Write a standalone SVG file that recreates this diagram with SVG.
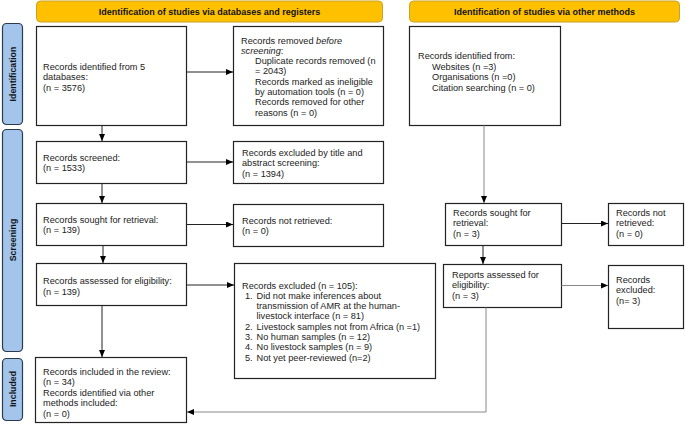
<svg xmlns="http://www.w3.org/2000/svg" width="685" height="424" viewBox="0 0 685 424">
<defs>
<marker id="ah" markerWidth="7" markerHeight="6" refX="7" refY="3" orient="auto" markerUnits="userSpaceOnUse">
<path d="M0,0 L7,3 L0,6 Z" fill="#000"/>
</marker>
</defs>
<style>
text{font-family:"Liberation Sans",Arial,sans-serif;font-size:9.2px;fill:#222}
.hdr{fill:#FFC000;stroke:#C9A227;stroke-width:1}
.hdrt{font-weight:bold;font-size:9px;fill:#111}
.side{fill:#A4C5EB;stroke:#2B3A4F;stroke-width:1.2}
.sidet{font-weight:bold;font-size:8.8px;fill:#111}
.box{fill:#fff;stroke:#222;stroke-width:1.2}
.c{stroke:#222;stroke-width:1;fill:none}
.g{stroke:#888;stroke-width:1;fill:none}
</style>
<rect width="685" height="424" fill="#fff"/>
<g id="header-db"><rect class="hdr" x="36.5" y="1" width="346" height="21" rx="4"/><text class="hdrt" x="209.5" y="14.5" text-anchor="middle">Identification of studies via databases and registers</text></g>
<g id="header-other"><rect class="hdr" x="409.5" y="1" width="270" height="21" rx="4"/><text class="hdrt" x="544.5" y="14.5" text-anchor="middle">Identification of studies via other methods</text></g>
<g id="phase-identification"><rect class="side" x="2.5" y="23.5" width="20" height="101" rx="4"/><text class="sidet" transform="translate(15.5,74) rotate(-90)" text-anchor="middle">Identification</text></g>
<g id="phase-screening"><rect class="side" x="2.5" y="129.5" width="20" height="222" rx="4"/><text class="sidet" transform="translate(15.5,240) rotate(-90)" text-anchor="middle">Screening</text></g>
<g id="phase-included"><rect class="side" x="2.5" y="358.5" width="20" height="62" rx="4"/><text class="sidet" transform="translate(15.5,389) rotate(-90)" text-anchor="middle">Included</text></g>

<g id="n-identified"><rect class="box" x="36.5" y="26.5" width="150" height="99"/>
<text x="43" y="69.5">Records identified from 5</text><text x="43" y="80">databases:</text><text x="43" y="90.5">(n = 3576)</text></g>
<g id="n-removed"><rect class="box" x="233.5" y="26.5" width="150" height="99"/>
<text x="241" y="43.5">Records removed <tspan font-style="italic">before</tspan></text>
<text x="241" y="53.8"><tspan font-style="italic">screening</tspan>:</text>
<text x="255" y="64.1">Duplicate records removed (n</text>
<text x="255" y="74.4">= 2043)</text>
<text x="255" y="84.7">Records marked as ineligible</text>
<text x="255" y="95">by automation tools (n = 0)</text>
<text x="255" y="105.3">Records removed for other</text>
<text x="255" y="115.6">reasons (n = 0)</text></g>
<g id="n-other"><rect class="box" x="409.5" y="26.5" width="151" height="99"/>
<text x="418" y="58.5">Records identified from:</text>
<text x="432" y="69.5">Websites (n =3)</text>
<text x="432" y="80">Organisations (n =0)</text>
<text x="432" y="90.5">Citation searching (n = 0)</text></g>
<g id="n-screened"><rect class="box" x="36.5" y="141.5" width="150" height="42"/>
<text x="43" y="160.5">Records screened:</text><text x="43" y="171">(n = 1533)</text></g>
<g id="n-excl-title"><rect class="box" x="233.5" y="141.5" width="150" height="42"/>
<text x="242" y="155.5">Records excluded by title and</text><text x="242" y="166">abstract screening:</text><text x="242" y="176.5">(n = 1394)</text></g>
<g id="n-sought"><rect class="box" x="36.5" y="203.5" width="150" height="42"/>
<text x="43" y="222.5">Records sought for retrieval:</text><text x="43" y="233">(n = 139)</text></g>
<g id="n-notret"><rect class="box" x="233.5" y="204.5" width="150" height="42"/>
<text x="242" y="223.5">Records not retrieved:</text><text x="242" y="234">(n = 0)</text></g>
<g id="n-assessed"><rect class="box" x="36.5" y="263.5" width="150" height="42"/>
<text x="43" y="283.5">Records assessed for eligibility:</text><text x="43" y="294.5">(n = 139)</text></g>
<g id="n-excl105"><rect class="box" x="234.5" y="263.5" width="201" height="115"/>
<text x="242" y="288.5">Records excluded (n = 105):</text>
<text x="245" y="298.8">1.</text><text x="256.5" y="298.8">Did not make inferences about</text>
<text x="256.5" y="309.1">transmission of AMR at the human-</text>
<text x="256.5" y="319.4">livestock interface (n = 81)</text>
<text x="245" y="329.7">2.</text><text x="256.5" y="329.7">Livestock samples not from Africa (n =1)</text>
<text x="245" y="340">3.</text><text x="256.5" y="340">No human samples (n = 12)</text>
<text x="245" y="350.3">4.</text><text x="256.5" y="350.3">No livestock samples (n = 9)</text>
<text x="245" y="360.6">5.</text><text x="256.5" y="360.6">Not yet peer-reviewed (n=2)</text></g>
<g id="n-included"><rect class="box" x="35.5" y="357.5" width="151" height="65"/>
<text x="43" y="374.5">Records included in the review:</text>
<text x="43" y="385">(n = 34)</text>
<text x="43" y="395.5">Records identified via other</text>
<text x="43" y="406">methods included:</text>
<text x="43" y="416.5">(n = 0)</text></g>
<g id="n-sought-o"><rect class="box" x="445.5" y="203.5" width="116" height="42"/>
<text x="453" y="215.5">Records sought for</text><text x="453" y="226">retrieval:</text><text x="453" y="236.5">(n = 3)</text></g>
<g id="n-notret-o"><rect class="box" x="608.5" y="203.5" width="75" height="42"/>
<text x="616" y="215.5">Records not</text><text x="616" y="226">retrieved:</text><text x="616" y="236.5">(n = 0)</text></g>
<g id="n-assessed-o"><rect class="box" x="443.5" y="264.5" width="118" height="43"/>
<text x="452" y="277.5">Reports assessed for</text><text x="452" y="288">eligibility:</text><text x="452" y="298.5">(n = 3)</text></g>
<g id="n-excl-o"><rect class="box" x="608.5" y="265.5" width="75" height="63"/>
<text x="616" y="282.5">Records</text><text x="616" y="293">excluded:</text><text x="616" y="303.5">(n= 3)</text></g>

<g id="connectors">
<line class="c" x1="186.5" y1="72" x2="233" y2="72" marker-end="url(#ah)"/>
<line class="c" x1="102" y1="125.5" x2="102" y2="141" marker-end="url(#ah)"/>
<line class="c" x1="186.5" y1="162" x2="233" y2="162" marker-end="url(#ah)"/>
<line class="c" x1="102" y1="183.5" x2="102" y2="203" marker-end="url(#ah)"/>
<line class="c" x1="186.5" y1="224.5" x2="233" y2="224.5" marker-end="url(#ah)"/>
<line class="c" x1="103" y1="245.5" x2="103" y2="263" marker-end="url(#ah)"/>
<line class="c" x1="186.5" y1="285" x2="234" y2="285" marker-end="url(#ah)"/>
<line class="c" x1="102" y1="305.5" x2="102" y2="357" marker-end="url(#ah)"/>
<line class="g" x1="484" y1="125.5" x2="484" y2="203" marker-end="url(#ah)"/>
<line class="c" x1="561.5" y1="223.5" x2="608" y2="223.5" marker-end="url(#ah)"/>
<line class="c" x1="483" y1="245.5" x2="483" y2="264" marker-end="url(#ah)"/>
<line class="g" x1="561.5" y1="285.5" x2="608" y2="285.5" marker-end="url(#ah)"/>
<polyline class="g" points="486,307.5 486,412 187,412" marker-end="url(#ah)"/>
</g>
</svg>
